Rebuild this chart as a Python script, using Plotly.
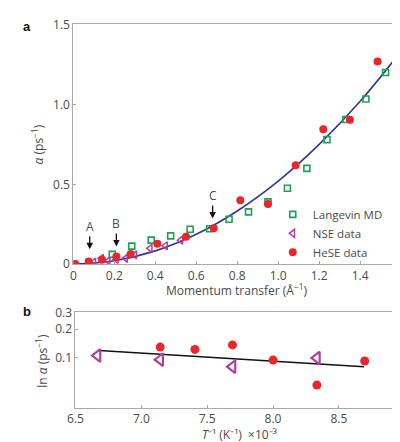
import plotly.graph_objects as go

# ---------------- Panel a data ----------------
q_md = [0.0, 0.19, 0.285, 0.38, 0.475, 0.57, 0.665, 0.76, 0.855, 0.95, 1.045, 1.14, 1.238, 1.33, 1.428, 1.524]
a_md = [0.0, 0.061, 0.113, 0.15, 0.177, 0.218, 0.222, 0.281, 0.327, 0.39, 0.475, 0.60, 0.78, 0.906, 1.034, 1.20]

q_nse = [0.10, 0.138, 0.17, 0.21, 0.255, 0.30, 0.375, 0.45, 0.525]
a_nse = [0.012, 0.036, 0.02, 0.03, 0.036, 0.058, 0.099, 0.115, 0.15]

q_hese = [0.01, 0.075, 0.14, 0.21, 0.28, 0.41, 0.55, 0.685, 0.815, 0.95, 1.085, 1.22, 1.35, 1.485]
a_hese = [0.0, 0.016, 0.028, 0.047, 0.063, 0.128, 0.172, 0.225, 0.40, 0.376, 0.62, 0.845, 0.905, 1.27]

q_fit = [0, 0.2, 0.4, 0.6, 0.8, 1.0, 1.2, 1.4, 1.6]
a_fit = [0, 0.021, 0.083, 0.187, 0.333, 0.52, 0.75, 1.02, 1.335]

a_xticks = [0, 0.2, 0.4, 0.6, 0.8, 1.0, 1.2, 1.4, 1.6]
a_xlabels = ["0", "0.2", "0.4", "0.6", "0.8", "1.0", "1.2", "1.4", "1.6"]
a_yticks = [0, 0.5, 1.0, 1.5]
a_ylabels = ["0", "0.5", "1.0", "1.5"]

arrow_labels = ["A", "B", "C"]
arrow_q = [0.08, 0.21, 0.68]
arrow_a = [0.093, 0.11, 0.285]

# ---------------- Panel b data ----------------
T_nse = [6.667, 7.143, 7.692, 8.333]
b_nse = [0.106, 0.096, 0.081, 0.100]
T_hese = [7.143, 7.407, 7.692, 8.0, 8.333, 8.696]
b_hese = [0.130, 0.123, 0.137, 0.095, 0.052, 0.093]
T_fit = [6.68, 8.69]
b_fit = [0.120, 0.081]

b_xticks = [6.5, 7.0, 7.5, 8.0, 8.5]
b_xlabels = ["6.5", "7.0", "7.5", "8.0", "8.5"]
b_yticks = [0.1, 0.2, 0.3]
b_ylabels = ["0.1", "0.2", "0.3"]

# ---------------- styles ----------------
RED = "#e8262b"
GREEN = "#1f9e55"
PURPLE = "#b0409e"
BLUE = "#2b3990"
FONT = "Open Sans"
TXT = "#4a4a4a"
FRAME = "#a8a8a8"

fig = go.Figure()

fig.add_trace(go.Scatter(x=q_fit, y=a_fit, mode="lines", line=dict(color=BLUE, width=1.6, shape="spline"),
                         showlegend=False, xaxis="x", yaxis="y"))
fig.add_trace(go.Scatter(x=q_md, y=a_md, mode="markers", name="Langevin MD",
                         marker=dict(symbol="square-open", size=6, color=GREEN, line=dict(width=1.6, color=GREEN)),
                         xaxis="x", yaxis="y"))
fig.add_trace(go.Scatter(x=q_nse, y=a_nse, mode="markers", name="NSE data",
                         marker=dict(symbol="triangle-left-open", size=7, color=PURPLE, line=dict(width=1.5, color=PURPLE)),
                         xaxis="x", yaxis="y"))
fig.add_trace(go.Scatter(x=q_hese, y=a_hese, mode="markers", name="HeSE data",
                         marker=dict(symbol="circle", size=8, color=RED),
                         xaxis="x", yaxis="y"))

# panel b
fig.add_trace(go.Scatter(x=T_fit, y=b_fit, mode="lines", line=dict(color="#111111", width=1.5),
                         showlegend=False, xaxis="x2", yaxis="y2"))
fig.add_trace(go.Scatter(x=T_hese, y=b_hese, mode="markers", showlegend=False,
                         marker=dict(symbol="circle", size=9, color=RED), xaxis="x2", yaxis="y2"))
fig.add_trace(go.Scatter(x=T_nse, y=b_nse, mode="markers", showlegend=False,
                         marker=dict(symbol="triangle-left-open", size=11, color=PURPLE, line=dict(width=2.2, color=PURPLE)),
                         xaxis="x2", yaxis="y2"))

axis_common = dict(showline=True, linecolor=FRAME, linewidth=1, mirror=True, showgrid=False, zeroline=False,
                   ticks="inside", ticklen=3, tickcolor=FRAME, tickfont=dict(family=FONT, size=12, color=TXT))

H = 442.0
W = 400.0
fig.update_layout(
    width=400, height=442,
    margin=dict(l=0, r=0, t=0, b=0),
    paper_bgcolor="white", plot_bgcolor="white",
    font=dict(family=FONT, color=TXT),
    xaxis=dict(domain=[58.5 / W, 393 / W], range=[0, 1.6], tickvals=a_xticks, ticktext=a_xlabels,
               anchor="y", **axis_common),
    yaxis=dict(domain=[(H - 257) / H, (H - 7.5) / H], range=[0, 1.503], tickvals=a_yticks, ticktext=a_ylabels,
               anchor="x", **axis_common),
    xaxis2=dict(domain=[60.7 / W, 394 / W], range=[6.5, 8.98], tickvals=b_xticks, ticktext=b_xlabels,
                anchor="y2", **axis_common),
    yaxis2=dict(domain=[(H - 406.5) / H, (H - 307) / H], type="log", range=[-1.523, -0.52],
                tickvals=b_yticks, ticktext=b_ylabels, anchor="x2", **axis_common),
    legend=dict(x=262 / W, y=(H - 225) / H, xanchor="left", yanchor="middle", bgcolor="rgba(0,0,0,0)",
                font=dict(family=FONT, size=11.5, color=TXT), itemwidth=30, tracegroupgap=0),
    showlegend=True,
)

annotations = []
for lab, q, a in zip(arrow_labels, arrow_q, arrow_a):
    annotations.append(dict(x=q, y=a, xref="x", yref="y", text=lab, showarrow=True, arrowhead=2,
                            arrowsize=1, arrowwidth=1.3, arrowcolor="#111111", ax=0, ay=-23,
                            font=dict(family=FONT, size=12, color=TXT)))

annotations += [
    dict(x=5 / W, y=(H - 10) / H, xref="paper", yref="paper", text="<b>a</b>", showarrow=False,
         font=dict(family="Liberation Sans", size=13, color="#111"), xanchor="left", yanchor="middle"),
    dict(x=5 / W, y=(H - 306) / H, xref="paper", yref="paper", text="<b>b</b>", showarrow=False,
         font=dict(family="Liberation Sans", size=13, color="#111"), xanchor="left", yanchor="middle"),
    dict(x=225 / W, y=(H - 284) / H, xref="paper", yref="paper", text="Momentum transfer (Å<sup>−1</sup>)",
         showarrow=False, font=dict(family=FONT, size=12, color=TXT), xanchor="center", yanchor="middle"),
    dict(x=22 / W, y=(H - 133) / H, xref="paper", yref="paper", text="<i>α</i> (ps<sup>−1</sup>)", textangle=-90,
         showarrow=False, font=dict(family=FONT, size=12, color=TXT), xanchor="center", yanchor="middle"),
    dict(x=228 / W, y=(H - 434) / H, xref="paper", yref="paper",
         text="<i>T</i>⁻¹ (K⁻¹)  ×10⁻³",
         showarrow=False, font=dict(family=FONT, size=12, color=TXT), xanchor="center", yanchor="middle"),
    dict(x=27 / W, y=(H - 357) / H, xref="paper", yref="paper", text="ln <i>α</i> (ps<sup>−1</sup>)", textangle=-90,
         showarrow=False, font=dict(family=FONT, size=12, color=TXT), xanchor="center", yanchor="middle"),
]
fig.update_layout(annotations=annotations)

fig.write_html("out.html")
